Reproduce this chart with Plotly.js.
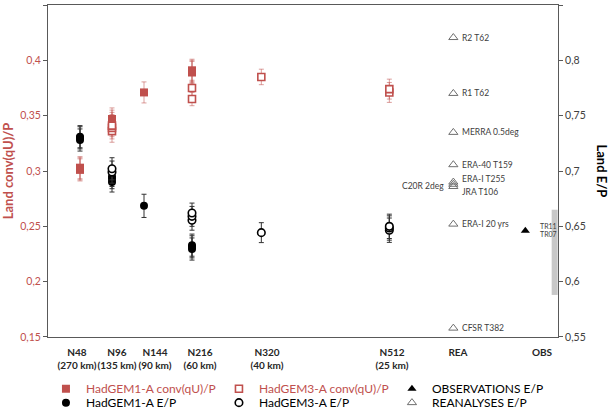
<!DOCTYPE html>
<html><head><meta charset="utf-8">
<script src="https://cdn.plot.ly/plotly-3.0.1.min.js"></script>
<style>html,body{margin:0;padding:0;background:#fff}#chart{width:609px;height:411px}</style>
</head><body><div id="chart"></div>
<script>
// ---------- data ----------
// HadGEM1-A conv(qU)/P (left axis)
const g1ConvX = [48, 48, 48, 96, 96, 96, 144, 216, 216, 216];
const g1ConvY = [0.301, 0.302, 0.303, 0.343, 0.345, 0.347, 0.371, 0.389, 0.390, 0.391];
const g1ConvErr = [0.010, 0.010, 0.010, 0.010, 0.010, 0.010, 0.0095, 0.010, 0.010, 0.010];
// HadGEM3-A conv(qU)/P (left axis)
const g3ConvX = [96, 96, 96, 216, 216, 320, 512, 512];
const g3ConvY = [0.336, 0.339, 0.341, 0.375, 0.365, 0.385, 0.371, 0.374];
const g3ConvErr = [0.010, 0.010, 0.010, 0.007, 0.006, 0.007, 0.009, 0.009];
// HadGEM1-A E/P (right axis)
const g1EpX = [48, 48, 48, 96, 96, 96, 144, 216, 216, 216];
const g1EpY = [0.728, 0.730, 0.731, 0.690, 0.693, 0.695, 0.6685, 0.6295, 0.6315, 0.633];
const g1EpErr = [0.010, 0.010, 0.010, 0.009, 0.009, 0.009, 0.0105, 0.010, 0.010, 0.010];
// HadGEM3-A E/P (right axis)
const g3EpX = [96, 96, 216, 216, 216, 320, 512, 512, 512];
const g3EpY = [0.699, 0.702, 0.6555, 0.659, 0.662, 0.6443, 0.6465, 0.6485, 0.650];
const g3EpErr = [0.010, 0.010, 0.009, 0.009, 0.009, 0.009, 0.011, 0.011, 0.011];
// Reanalyses E/P (right axis)
const reaNames = ['R2 T62', 'R1 T62', 'MERRA 0.5deg', 'ERA-40 T159', 'ERA-I T255', 'JRA T106', 'C20R 2deg', 'ERA-I 20 yrs', 'CFSR T382'];
const reaY = [0.8206, 0.7701, 0.7349, 0.7057, 0.690, 0.688, 0.686, 0.652, 0.558];
const reaXpos = 608;
// Observations E/P (right axis)
const obsNames = ['TR11', 'TR07'];
const obsY = [0.646, 0.646];
const obsXpos = 716;
const obsRange = [0.588, 0.665];
const obsRangeXpos = 760;
// axis ticks
const xTickPos = [43.5, 103.5, 160.5, 228, 328.5, 516, 615, 741];
const xTickLabels = ['N48<br>(270 km)', 'N96<br>(135 km)', 'N144<br>(90 km)', 'N216<br>(60 km)', 'N320<br>(40 km)', 'N512<br>(25 km)', 'REA', 'OBS'];
const yLeftTicks = [0.15, 0.2, 0.25, 0.3, 0.35, 0.4, 0.45];
const yLeftLabels = ['0,15', '0,2', '0,25', '0,3', '0,35', '0,4', '0,45'];
const yRightTicks = [0.55, 0.6, 0.65, 0.7, 0.75, 0.8, 0.85];
const yRightLabels = ['0,55', '0,6', '0,65', '0,7', '0,75', '0,8', '0,85'];

// ---------- style ----------
const RED = '#c0504d';
const FONT = 'Lato, "Open Sans", sans-serif';
const AX = '#595959';
const redErr = (arr) => ({type: 'data', array: arr, visible: true, color: 'rgba(192,80,77,0.55)', thickness: 1, width: 2.5});
const blkErr = (arr) => ({type: 'data', array: arr, visible: true, color: '#333333', thickness: 1, width: 2.5});
const redName = (s) => '<span style="color:' + RED + '">' + s + '</span>';

// label placement for reanalysis / observation annotations (pixel offsets)
const reaPlace = [
  {xa: 'left', dx: 7, dy: 0}, {xa: 'left', dx: 7, dy: 0}, {xa: 'left', dx: 7, dy: 0}, {xa: 'left', dx: 7, dy: 0},
  {xa: 'left', dx: 7, dy: 3}, {xa: 'left', dx: 7, dy: -8}, {xa: 'right', dx: -7, dy: 0},
  {xa: 'left', dx: 7, dy: 0}, {xa: 'left', dx: 7, dy: 0}
];
const obsPlace = [{dx: 13, dy: 5}, {dx: 13, dy: -3.5}];

const traces = [
  {x: g1ConvX, y: g1ConvY, error_y: redErr(g1ConvErr), type: 'scatter', mode: 'markers', yaxis: 'y',
   name: redName('HadGEM1-A conv(qU)/P'), legend: 'legend',
   marker: {symbol: 'square', size: 8, color: RED}},
  {x: g3ConvX, y: g3ConvY, error_y: redErr(g3ConvErr), type: 'scatter', mode: 'markers', yaxis: 'y',
   name: redName('HadGEM3-A conv(qU)/P'), legend: 'legend',
   marker: {symbol: 'square', size: 7, color: '#ffffff', line: {color: RED, width: 1.6}}},
  {x: [obsXpos], y: [obsY[0]], type: 'scatter', mode: 'markers', yaxis: 'y2',
   name: 'OBSERVATIONS E/P', legend: 'legend',
   marker: {symbol: 'triangle-up', size: 8, color: '#000000'}},
  {x: g1EpX, y: g1EpY, error_y: blkErr(g1EpErr), type: 'scatter', mode: 'markers', yaxis: 'y2',
   name: 'HadGEM1-A E/P', legend: 'legend2',
   marker: {symbol: 'circle', size: 8, color: '#000000'}},
  {x: g3EpX, y: g3EpY, error_y: blkErr(g3EpErr), type: 'scatter', mode: 'markers', yaxis: 'y2',
   name: 'HadGEM3-A E/P', legend: 'legend2',
   marker: {symbol: 'circle', size: 7.5, color: '#ffffff', line: {color: '#000000', width: 1.6}}},
  {x: reaNames.map(() => reaXpos), y: reaY, text: reaNames, type: 'scatter', mode: 'markers', yaxis: 'y2',
   name: 'REANALYSES E/P', legend: 'legend2',
   marker: {symbol: 'triangle-up-open', size: 8, color: '#6e6e6e', line: {width: 1}}},
  {x: [obsRangeXpos, obsRangeXpos], y: obsRange, type: 'scatter', mode: 'lines', yaxis: 'y2',
   showlegend: false, hoverinfo: 'skip', line: {color: '#c8c8c8', width: 6}}
];

const annotations = [];
reaNames.forEach((n, i) => {
  annotations.push({x: reaXpos, y: reaY[i], xref: 'x', yref: 'y2', text: n, showarrow: false,
    xanchor: reaPlace[i].xa, yanchor: 'middle', xshift: reaPlace[i].dx, yshift: reaPlace[i].dy,
    font: {family: FONT, size: 8.5, color: '#404040'}});
});
obsNames.forEach((n, i) => {
  annotations.push({x: obsXpos, y: obsY[i], xref: 'x', yref: 'y2', text: n, showarrow: false,
    xanchor: 'left', yanchor: 'middle', xshift: obsPlace[i].dx, yshift: obsPlace[i].dy,
    font: {family: FONT, size: 7, color: '#404040'}});
});
annotations.push({x: 1.105, y: 0.5, xref: 'paper', yref: 'paper', text: 'Land E/P', showarrow: false,
  textangle: 90, font: {family: FONT, size: 13, color: '#000000', weight: 'bold'}});

const legendBase = {orientation: 'h', xanchor: 'left', yanchor: 'top', entrywidth: 128, entrywidthmode: 'pixels',
  bgcolor: 'rgba(0,0,0,0)', borderwidth: 0, font: {family: FONT, size: 12, color: '#000000'},
  itemclick: false, itemdoubleclick: false, tracegroupgap: 0};

const layout = {
  width: 609, height: 411,
  margin: {l: 48, r: 51, t: 5, b: 74, autoexpand: false},
  paper_bgcolor: '#ffffff', plot_bgcolor: '#ffffff',
  font: {family: FONT, size: 10.5, color: '#404040'},
  showlegend: true,
  xaxis: {range: [0, 765], tickmode: 'array', tickvals: xTickPos, ticktext: xTickLabels.map(s => '<b>' + s.replace('<br>', '</b><br><b>') + '</b>'),
    tickangle: 0, ticks: '', ticklabelstandoff: 6, showgrid: false, zeroline: false, showline: true, linecolor: AX, linewidth: 1, mirror: true,
    tickfont: {family: FONT, size: 10, color: '#262626'}, fixedrange: true},
  yaxis: {range: [0.14999, 0.45001], tickmode: 'array', tickvals: yLeftTicks, ticktext: yLeftLabels,
    ticks: 'outside', ticklen: 4, tickcolor: AX, showgrid: false, zeroline: false, showline: true, linecolor: AX, linewidth: 1,
    tickfont: {family: FONT, size: 10.5, color: RED},
    title: {text: 'Land conv(qU)/P', font: {family: FONT, size: 13, color: RED, weight: 'bold'}, standoff: 8}},
  yaxis2: {range: [0.54999, 0.85001], overlaying: 'y', side: 'right', tickmode: 'array', tickvals: yRightTicks, ticktext: yRightLabels,
    ticks: 'outside', ticklen: 4, tickcolor: AX, showgrid: false, zeroline: false, showline: true, linecolor: AX, linewidth: 1,
    tickfont: {family: FONT, size: 10.5, color: '#404040'}},
  legend: Object.assign({x: -0.004, y: -0.112}, legendBase),
  legend2: Object.assign({x: -0.004, y: -0.154}, legendBase),
  annotations: annotations
};

Plotly.newPlot('chart', traces, layout, {staticPlot: true, displayModeBar: false});
</script>
</body></html>
